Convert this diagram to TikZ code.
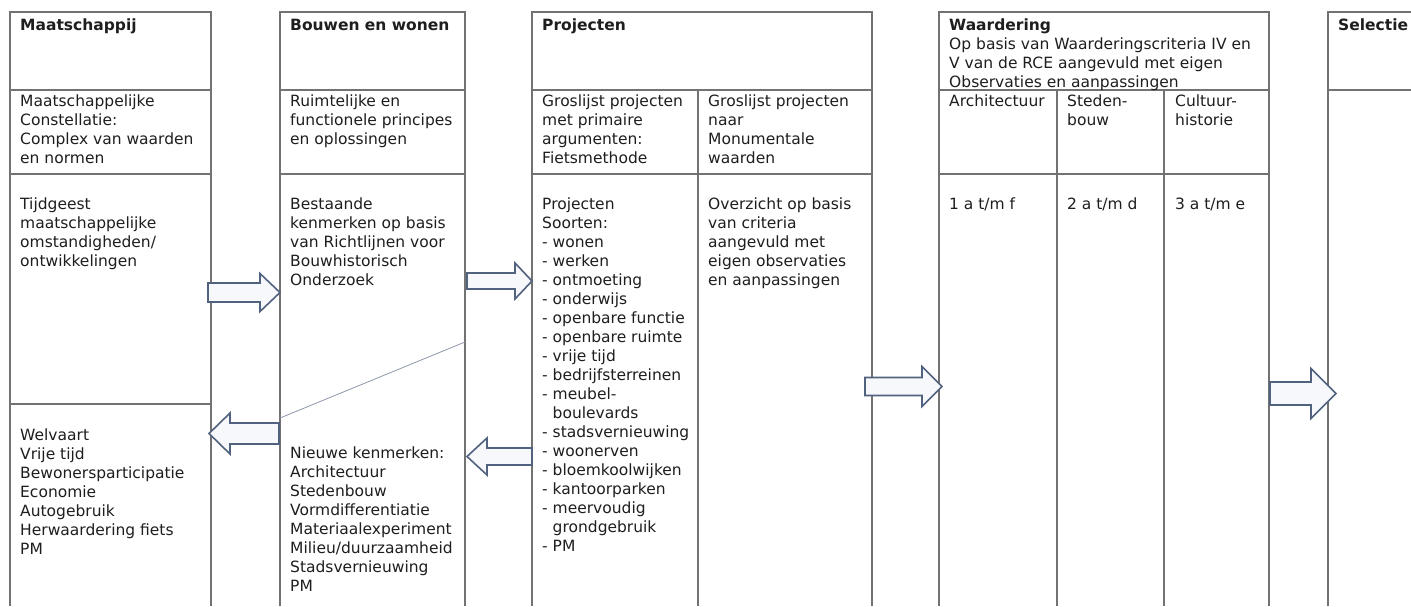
\documentclass[tikz,border=0pt]{standalone}
\usepackage{fontspec}
\setmainfont{DejaVu Sans}
\definecolor{tablegray}{HTML}{727272}
\definecolor{textcol}{HTML}{1E1E1E}
\definecolor{arrowcol}{HTML}{50627E}
\definecolor{arrowfill}{HTML}{F6F8FC}
\definecolor{diagcol}{HTML}{8E98AC}
\newcommand\cellfont{\fontsize{15.5}{19}\selectfont}
\newcommand\cellstrut{\rule{0pt}{15pt}}
\newcommand\blockarr[6]{\draw[blockarrow] (#1,#4-#5) -- (#2,#4-#5) -- (#2,#4-#6) -- (#3,#4) -- (#2,#4+#6) -- (#2,#4+#5) -- (#1,#4+#5) -- cycle;}
\tikzset{
  grid/.style={draw=tablegray, line width=1.2pt},
  cell/.style={anchor=north west, inner sep=0pt, align=left, font=\cellfont, text=textcol},
  blockarrow/.style={draw=arrowcol, fill=arrowfill, line width=1.6pt, line join=miter},
  diag/.style={draw=diagcol, line width=0.8pt}
}
\begin{document}
\begin{tikzpicture}[x=1pt,y=-1pt]
\useasboundingbox[fill=white] (0,0) rectangle (1411,606);
% column 1
\draw[grid] (10,606) -- (10,12) -- (211,12) -- (211,606);
\draw[grid] (10,90) -- (211,90) (10,174) -- (211,174) (10,404) -- (211,404);
% column 2
\draw[grid] (280,606) -- (280,12) -- (465,12) -- (465,606);
\draw[grid] (280,90) -- (465,90) (280,174) -- (465,174);
\draw[diag] (465,342) -- (280,418);
% column 3
\draw[grid] (532,606) -- (532,12) -- (872,12) -- (872,606);
\draw[grid] (532,90) -- (872,90) (532,174) -- (872,174) (698,90) -- (698,606);
% column 4
\draw[grid] (939,606) -- (939,12) -- (1269,12) -- (1269,606);
\draw[grid] (939,90) -- (1269,90) (939,174) -- (1269,174) (1057,90) -- (1057,606) (1164,90) -- (1164,606);
% column 5
\draw[grid] (1328,606) -- (1328,12) -- (1412,12);
\draw[grid] (1328,90) -- (1412,90);
% arrows
\blockarr{208}{260}{280}{292.5}{9.5}{19}
\blockarr{467}{515}{532}{281}{8}{18}
\blockarr{279}{230}{209}{433.5}{10.5}{20.5}
\blockarr{532}{487}{467}{456.5}{8.5}{18.5}
\blockarr{865}{922}{942}{386.5}{9}{20}
\blockarr{1270}{1311}{1336}{393.5}{11.5}{25}
% texts column 1
\node[cell] (t1) at (20,15) {\cellstrut\textbf{Maatschappij}};
\node[cell] (r1) at (20,91) {\cellstrut Maatschappelijke\\Constellatie:\\Complex van waarden\\en normen};
\node[cell] (b1) at (20,194.5) {\cellstrut Tijdgeest\\maatschappelijke\\omstandigheden/\\ontwikkelingen};
\node[cell] (l1) at (20,425) {\cellstrut Welvaart\\Vrije tijd\\Bewonersparticipatie\\Economie\\Autogebruik\\Herwaardering fiets\\PM};
% column 2
\node[cell] (t2) at (290,15) {\cellstrut\textbf{Bouwen en wonen}};
\node[cell] (r2) at (290,91) {\cellstrut Ruimtelijke en\\functionele principes\\en oplossingen};
\node[cell] (b2) at (290,194.5) {\cellstrut Bestaande\\kenmerken op basis\\van Richtlijnen voor\\Bouwhistorisch\\Onderzoek};
\node[cell] (l2) at (290,443) {\cellstrut Nieuwe kenmerken:\\Architectuur\\Stedenbouw\\Vormdifferentiatie\\Materiaalexperiment\\Milieu/duurzaamheid\\Stadsvernieuwing\\PM};
% column 3
\node[cell] (t3) at (542,15) {\cellstrut\textbf{Projecten}};
\node[cell] (r3a) at (542,91) {\cellstrut Groslijst projecten\\met primaire\\argumenten:\\Fietsmethode};
\node[cell] (r3b) at (708,91) {\cellstrut Groslijst projecten\\naar\\Monumentale\\waarden};
\node[cell] (b3a) at (542,194.5) {\cellstrut Projecten\\Soorten:\\- wonen\\- werken\\- ontmoeting\\- onderwijs\\- openbare functie\\- openbare ruimte\\- vrije tijd\\- bedrijfsterreinen\\- meubel-\\\hphantom{- }boulevards\\- stadsvernieuwing\\- woonerven\\- bloemkoolwijken\\- kantoorparken\\- meervoudig\\\hphantom{- }grondgebruik\\- PM};
\node[cell] (b3b) at (708,194.5) {\cellstrut Overzicht op basis\\van criteria\\aangevuld met\\eigen observaties\\en aanpassingen};
% column 4
\node[cell] (t4) at (949,15) {\cellstrut\textbf{Waardering}\\Op basis van Waarderingscriteria IV en\\V van de RCE aangevuld met eigen\\Observaties en aanpassingen};
\node[cell] (r4a) at (949,91) {\cellstrut Architectuur};
\node[cell] (r4b) at (1067,91) {\cellstrut Steden-\\bouw};
\node[cell] (r4c) at (1175,91) {\cellstrut Cultuur-\\historie};
\node[cell] (b4a) at (949,194.5) {\cellstrut 1 a t/m f};
\node[cell] (b4b) at (1067,194.5) {\cellstrut 2 a t/m d};
\node[cell] (b4c) at (1175,194.5) {\cellstrut 3 a t/m e};
% column 5
\node[cell] (t5) at (1338,15) {\cellstrut\textbf{Selectie}};
\end{tikzpicture}
\end{document}
